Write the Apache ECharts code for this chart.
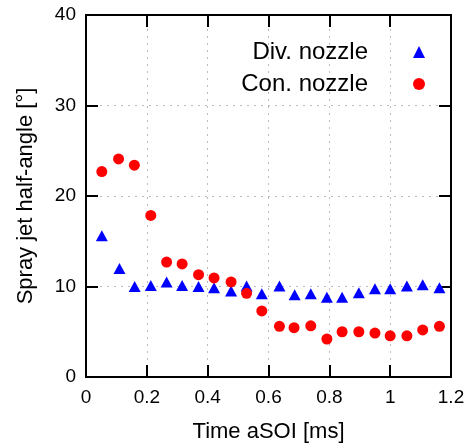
<!DOCTYPE html>
<html>
<head>
<meta charset="utf-8">
<script src="https://cdn.jsdelivr.net/npm/echarts@6/dist/echarts.min.js"></script>
<style>html,body{margin:0;padding:0;background:#fff}#c{width:475px;height:448px}</style>
</head>
<body>
<div id="c"></div>
<script>
const divTime = [0.052,0.11,0.16,0.213,0.265,0.316,0.37,0.421,0.477,0.528,0.578,0.636,0.686,0.739,0.792,0.842,0.897,0.95,1.0,1.055,1.107,1.162];
const divAngle = [15.6,12.0,10.0,10.1,10.5,10.1,10.0,9.85,9.5,10.05,9.2,10.05,9.1,9.2,8.8,8.8,9.3,9.75,9.75,10.05,10.2,9.85];
const conTime = [0.052,0.107,0.159,0.213,0.265,0.316,0.37,0.421,0.477,0.528,0.578,0.636,0.684,0.739,0.792,0.842,0.897,0.95,1.0,1.055,1.107,1.162];
const conAngle = [22.7,24.1,23.4,17.85,12.7,12.5,11.3,10.95,10.5,9.25,7.3,5.6,5.45,5.65,4.2,5.0,5.0,4.85,4.55,4.55,5.2,5.6];
const xTicks = [0,0.2,0.4,0.6,0.8,1,1.2];
const yTicks = [0,10,20,30,40];

const font = 'Liberation Sans, Arial, Helvetica, sans-serif';
const chart = echarts.init(document.getElementById('c'));
const tickLen = 12;
const tickStyle = {show: true, inside: true, length: tickLen, lineStyle: {color: '#000', width: 2}};
const lineStyle = {show: true, onZero: false, lineStyle: {color: '#000', width: 2}};
chart.setOption({
  animation: false,
  grid: {left: 86, right: 24, top: 15, bottom: 70, show: true, borderColor: '#000', borderWidth: 2, backgroundColor: 'transparent'},
  legend: {
    orient: 'vertical', right: 45, top: 35, align: 'right', itemGap: 8,
    itemWidth: 12, itemHeight: 12,
    textStyle: {fontFamily: font, fontSize: 24, color: '#000', padding: [0, 40, 0, 0]},
    data: [{name: 'Div. nozzle', icon: 'triangle'}, {name: 'Con. nozzle', icon: 'circle'}]
  },
  xAxis: [{
    type: 'value', position: 'bottom', min: xTicks[0], max: xTicks[xTicks.length-1], interval: 0.2,
    name: 'Time aSOI [ms]', nameLocation: 'middle', nameGap: 44,
    nameTextStyle: {fontFamily: font, fontSize: 22, color: '#000'},
    axisLine: lineStyle, axisTick: tickStyle,
    axisLabel: {fontFamily: font, fontSize: 19, color: '#000', margin: 11},
    splitLine: {show: true, lineStyle: {type: [2, 5], color: '#bbb', width: 1}}
  }, {
    type: 'value', position: 'top', min: xTicks[0], max: xTicks[xTicks.length-1], interval: 0.2,
    axisLine: lineStyle, axisTick: tickStyle,
    axisLabel: {show: false}, splitLine: {show: false}
  }],
  yAxis: [{
    type: 'value', position: 'left', min: yTicks[0], max: yTicks[yTicks.length-1], interval: 10,
    name: 'Spray jet half-angle [°]', nameLocation: 'middle', nameGap: 49,
    nameTextStyle: {fontFamily: font, fontSize: 22, color: '#000'},
    axisLine: lineStyle, axisTick: tickStyle,
    axisLabel: {fontFamily: font, fontSize: 19, color: '#000', margin: 10},
    splitLine: {show: true, lineStyle: {type: [2, 5], color: '#bbb', width: 1}}
  }, {
    type: 'value', position: 'right', min: yTicks[0], max: yTicks[yTicks.length-1], interval: 10,
    axisLine: lineStyle, axisTick: tickStyle,
    axisLabel: {show: false}, splitLine: {show: false}
  }],
  series: [{
    name: 'Div. nozzle', type: 'scatter', symbol: 'triangle', symbolSize: [12, 11],
    itemStyle: {color: '#0000ff', opacity: 1},
    data: divTime.map((t, i) => [t, divAngle[i]])
  }, {
    name: 'Con. nozzle', type: 'scatter', symbol: 'circle', symbolSize: 11,
    itemStyle: {color: '#ff0000', opacity: 1},
    data: conTime.map((t, i) => [t, conAngle[i]])
  }]
});
</script>
</body>
</html>
